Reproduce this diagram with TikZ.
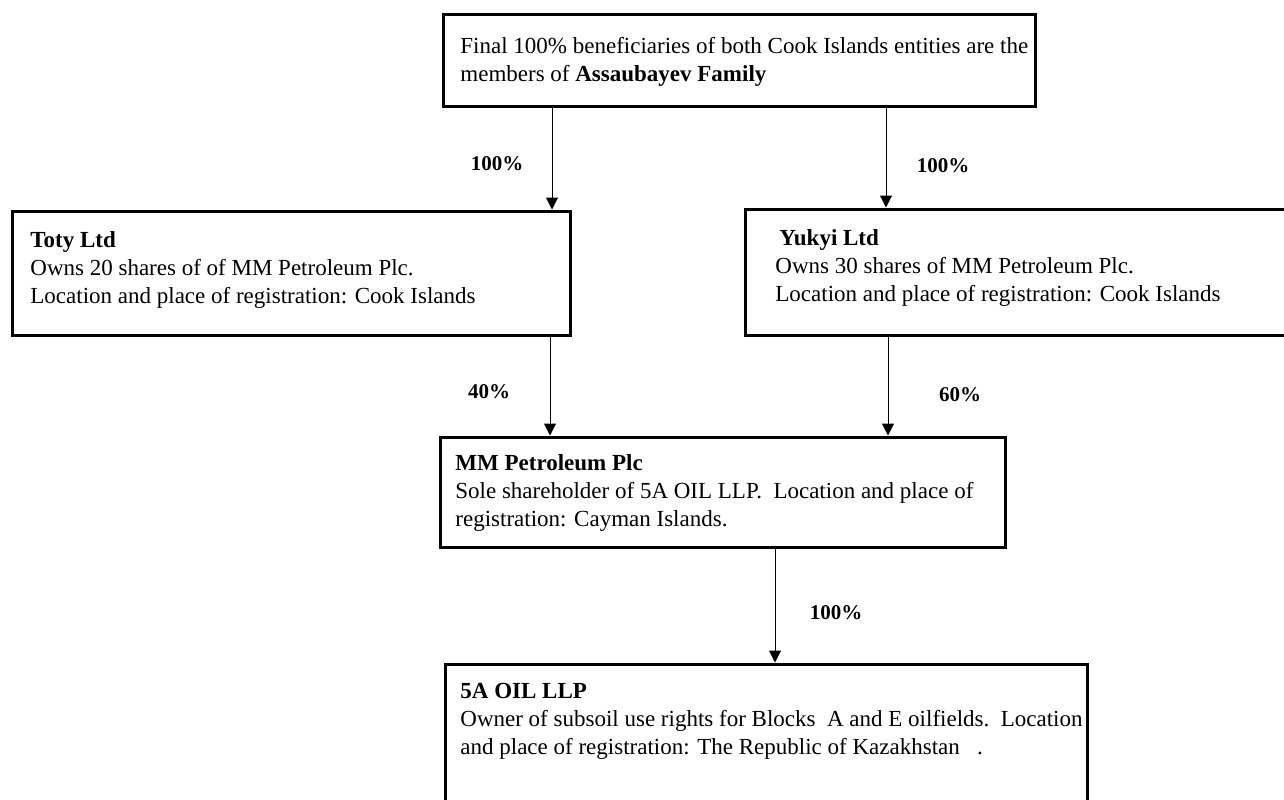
\documentclass[tikz,border=0pt]{standalone}
\usepackage{fontspec}
\setmainfont{Liberation Serif}
\usetikzlibrary{arrows.meta}
\tikzset{
  entbox/.style={draw, line width=1.5pt, rectangle, inner sep=0pt},
  entxt/.style={anchor=north west, inner sep=0pt, align=left, font=\fontsize{11.5}{14}\selectfont},
  pct/.style={inner sep=0pt, font=\fontsize{10.5}{12}\selectfont\bfseries},
  arr/.style={line width=0.5pt, -{Triangle[length=6pt,width=6pt]}}
}
\begin{document}
\begin{tikzpicture}[x=0.5pt,y=-0.5pt]
\useasboundingbox (0,0) rectangle (1284,799);
% boxes
\node[entbox, minimum width=296pt, minimum height=46pt] (top) at (739,60) {};
\node[entbox, minimum width=279pt, minimum height=62pt] (toty) at (291,273) {};
\node[entbox, minimum width=274pt, minimum height=63pt] (yukyi) at (1019,272) {};
\node[entbox, minimum width=282.5pt, minimum height=55pt] (mm) at (722.5,492) {};
\node[entbox, minimum width=321pt, minimum height=85pt] (oil) at (766,749) {};
% texts
\node[entxt] (ttop) at (460,37) {Final 100\% beneficiaries of both Cook Islands entities are the\\members of \textbf{Assaubayev Family}};
\node[entxt] (ttoty) at (30,231) {\textbf{Toty Ltd}\\Owns 20 shares of of MM Petroleum Plc.\\Location and place of registration: Cook Islands};
\node[entxt] (tyukyi) at (775,229) {\hspace{2pt}\textbf{Yukyi Ltd}\\Owns 30 shares of MM Petroleum Plc.\\Location and place of registration: Cook Islands};
\node[entxt] (tmm) at (455,454) {\textbf{MM Petroleum Plc}\\Sole shareholder of 5A OIL LLP.\ \ Location and place of\\registration: Cayman Islands.};
\node[entxt] (toil) at (460,683) {\textbf{5A OIL LLP}\\Owner of subsoil use rights for Blocks\ \ A and E oilfields.\ \ Location\\and place of registration: The Republic of Kazakhstan\ \ \ .};
% connector columns
\coordinate (c1) at (552,0);
\coordinate (c2) at (886,0);
\coordinate (c3) at (550,0);
\coordinate (c4) at (888,0);
\coordinate (c5) at (775,0);
\draw[arr] (c1 |- top.south) -- (c1 |- toty.north);
\draw[arr] (c2 |- top.south) -- (c2 |- yukyi.north);
\draw[arr] (c3 |- toty.south) -- (c3 |- mm.north);
\draw[arr] (c4 |- yukyi.south) -- (c4 |- mm.north);
\draw[arr] (c5 |- mm.south) -- (c5 |- oil.north);
% labels
\node[pct] (p1) at (497,164) {100\%};
\node[pct] (p2) at (943,166) {100\%};
\node[pct] (p3) at (489,392) {40\%};
\node[pct] (p4) at (960,395) {60\%};
\node[pct] (p5) at (836,613) {100\%};
\end{tikzpicture}
\end{document}
